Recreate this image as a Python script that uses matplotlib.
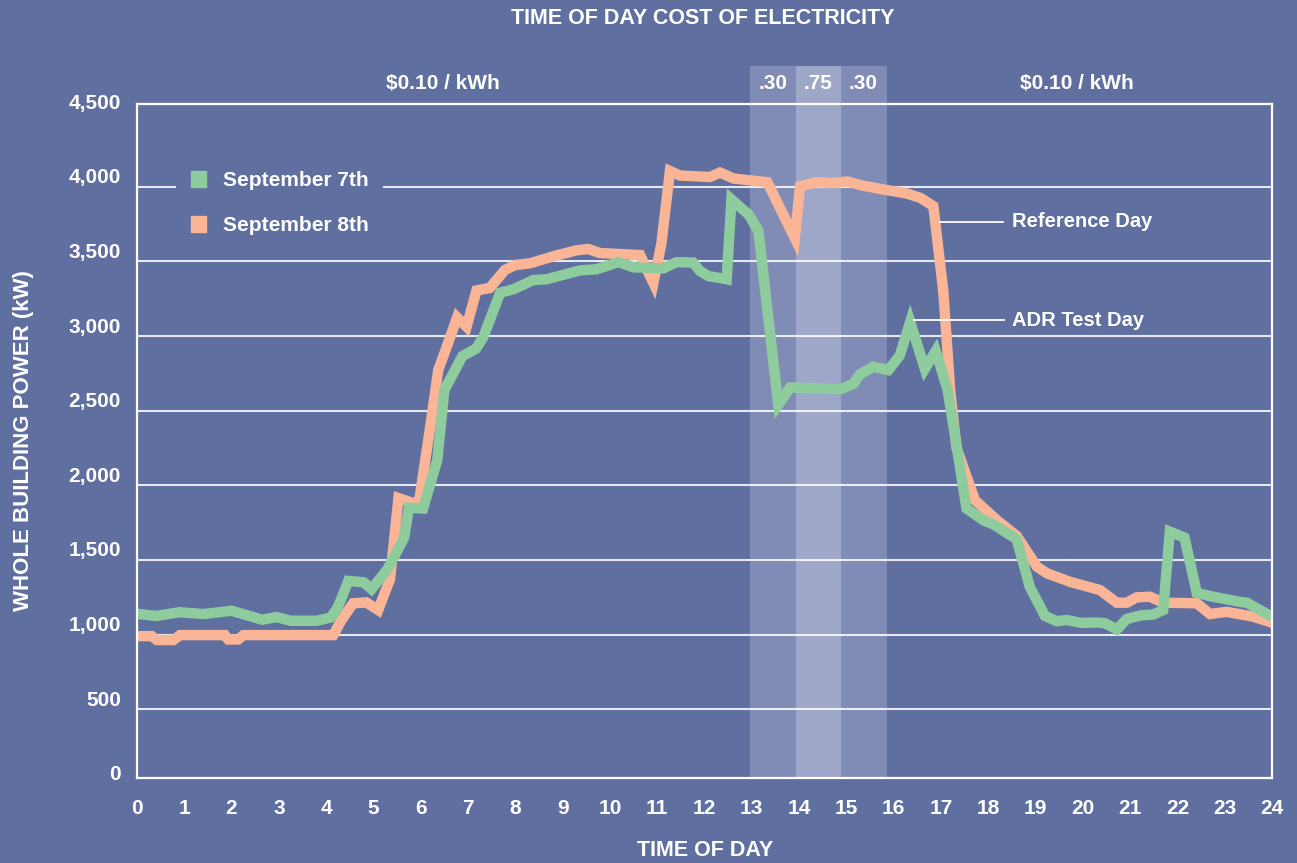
import matplotlib
matplotlib.use("Agg")
import matplotlib.pyplot as plt
from matplotlib.patches import Patch, Rectangle
from matplotlib.transforms import ScaledTranslation, blended_transform_factory

plt.rcParams["font.family"] = ["Liberation Sans", "DejaVu Sans"]

# ── data ──────────────────────────────────────────────────────────────────────
sep7_hours = [0.0, 0.4, 0.9, 1.4, 2.0, 2.65, 2.95, 3.25, 3.8, 4.1, 4.25, 4.47, 4.8,
              4.96, 5.3, 5.65, 5.75, 6.05, 6.35, 6.5, 6.88, 7.17, 7.32, 7.68, 7.96,
              8.38, 8.66, 9.37, 9.72, 10.18, 10.5, 11.13, 11.41, 11.76, 11.9, 12.08,
              12.47, 12.57, 12.93, 13.14, 13.56, 13.81, 14.37, 14.87, 15.15, 15.29,
              15.57, 15.89, 16.13, 16.35, 16.66, 16.89, 17.14, 17.3, 17.54, 17.9,
              18.1, 18.6, 18.88, 19.2, 19.45, 19.66, 19.98, 20.29, 20.47, 20.72,
              20.93, 21.21, 21.49, 21.7, 21.84, 22.15, 22.41, 22.69, 23.32, 23.47, 24.0]
sep7_kw = [1140, 1125, 1150, 1138, 1160, 1100, 1118, 1093, 1093, 1115, 1185, 1360, 1350,
           1305, 1440, 1650, 1850, 1845, 2170, 2638, 2865, 2915, 2990, 3290, 3313,
           3375, 3380, 3440, 3447, 3495, 3460, 3453, 3495, 3492, 3437, 3402,
           3380, 3915, 3815, 3705, 2540, 2655, 2650, 2643, 2680, 2745,
           2794, 2772, 2870, 3095, 2780, 2900, 2640, 2330, 1845, 1765,
           1740, 1640, 1320, 1125, 1090, 1098, 1078, 1082, 1076, 1035,
           1105, 1128, 1135, 1165, 1690, 1650, 1280, 1258, 1220, 1214, 1120]

sep8_hours = [0.0, 0.31, 0.42, 0.77, 0.91, 1.86, 1.93, 2.14, 2.25, 4.15, 4.33, 4.57,
              4.85, 5.1, 5.35, 5.53, 5.86, 5.97, 6.2, 6.37, 6.55, 6.77, 6.97, 7.18,
              7.46, 7.78, 7.99, 8.31, 8.87, 9.3, 9.54, 9.79, 10.64, 10.92, 11.09,
              11.27, 11.48, 12.12, 12.33, 12.61, 13.33, 13.91, 14.02, 14.37, 14.72,
              15.02, 15.33, 15.85, 16.27, 16.56, 16.84, 17.05, 17.2, 17.33, 17.72,
              18.18, 18.6, 19.03, 19.24, 19.73, 20.36, 20.72, 20.93, 21.14, 21.42,
              21.7, 22.41, 22.69, 23.04, 23.61, 24.0]
sep8_kw = [990, 990, 964, 964, 997, 997, 968, 968, 997, 997, 1100, 1210,
           1216, 1165, 1370, 1915, 1879, 1902, 2390, 2772, 2928, 3125, 3062, 3305,
           3322, 3442, 3475, 3487, 3540, 3574, 3583, 3556, 3542, 3355, 3620,
           4105, 4075, 4065, 4095, 4055, 4030, 3655, 4003, 4030, 4025,
           4035, 4008, 3978, 3955, 3926, 3870, 3300, 2620, 2250, 1900,
           1768, 1662, 1455, 1411, 1354, 1299, 1214, 1214, 1250, 1254,
           1214, 1210, 1138, 1153, 1120, 1080]

price_edges = [12.96, 13.93, 14.88, 15.85]
price_labels = [".30", ".75", ".30"]
y_ticks = [0, 500, 1000, 1500, 2000, 2500, 3000, 3500, 4000, 4500]
x_ticks = list(range(25))

BG = "#5F6FA0"
GREEN = "#8ECC9D"
ORANGE = "#F9B596"
BAND_COLORS = ["#808CB5", "#9EA7C7", "#808CB5"]

fig = plt.figure(figsize=(12.97, 8.63), dpi=100, facecolor=BG)
ax = fig.add_axes([0.1056, 0.0985, 0.8751, 0.781])
ax.set_facecolor(BG)

# price period bands, reaching above the frame for their labels
band_tr = blended_transform_factory(ax.transData, ax.transAxes)
for (x0, x1), c, lab in zip(zip(price_edges[:-1], price_edges[1:]), BAND_COLORS, price_labels):
    ax.add_patch(Rectangle((x0, 0), x1 - x0, 1.056, transform=band_tr, color=c,
                           lw=0, zorder=1, clip_on=False))
    ax.text((x0 + x1) / 2, 1.031, lab, transform=band_tr, ha="center", va="center",
            color="white", fontsize=15, fontweight="bold", zorder=5)

for xc in [6.47, 19.88]:
    ax.text(xc, 1.031, "$0.10 / kWh", transform=band_tr, ha="center", va="center",
            color="white", fontsize=15, fontweight="bold")

for v in y_ticks[1:-1]:
    ax.axhline(v, color="white", lw=1.5, alpha=0.85, zorder=2)

ax.plot(sep8_hours, sep8_kw, color=ORANGE, lw=7.5, solid_joinstyle="miter", zorder=3)
ax.plot(sep7_hours, sep7_kw, color=GREEN, lw=7.5, solid_joinstyle="miter", zorder=4)

# callouts
ax.plot([16.98, 18.31], [3764, 3764], color="white", lw=1.3, zorder=5)
ax.text(18.5, 3764, "Reference Day", color="white", fontsize=14.5, fontweight="bold",
        va="center", ha="left")
ax.plot([16.43, 18.33], [3107, 3107], color="white", lw=1.3, zorder=5)
ax.text(18.5, 3107, "ADR Test Day", color="white", fontsize=14.5, fontweight="bold",
        va="center", ha="left")

ax.set_xlim(0, 24)
ax.set_ylim(40, 4554)
ax.set_xticks(x_ticks)
ax.set_yticks([])
ax.tick_params(length=0, colors="white", labelsize=15)
ax.tick_params(axis="x", pad=15)
for lab in ax.get_xticklabels():
    lab.set_fontweight("bold")

# y labels sit a little above their gridlines, "0" sits below the frame's floor
ylab_tr = blended_transform_factory(ax.transAxes, ax.transData) + \
    ScaledTranslation(0, 9 / 100, fig.dpi_scale_trans)
for v in y_ticks:
    ax.text(-0.0141, v, f"{v:,}", transform=ylab_tr, ha="right", va="center",
            color="white", fontsize=15, fontweight="bold", clip_on=False)

for sp in ax.spines.values():
    sp.set_color("white")
    sp.set_linewidth(1.6)
    sp.set_zorder(6)

handles = [Patch(color=GREEN, label="September 7th"),
           Patch(color=ORANGE, label="September 8th")]
leg = ax.legend(handles=handles, loc="upper left", bbox_to_anchor=(0.0344, 0.922),
                frameon=True, facecolor=BG, edgecolor="none", framealpha=1,
                fancybox=False, handlelength=0.75, handleheight=0.75,
                handletextpad=0.8, labelspacing=1.25, borderpad=0.7,
                borderaxespad=0, prop={"size": 15, "weight": "bold"})
leg.set_zorder(7)
for t in leg.get_texts():
    t.set_color("white")

fig.text(0.542, 0.979, "TIME OF DAY COST OF ELECTRICITY", ha="center", va="center",
         color="white", fontsize=15.5, fontweight="bold")
fig.text(0.544, 0.015, "TIME OF DAY", ha="center", va="center",
         color="white", fontsize=15.5, fontweight="bold")
fig.text(0.018, 0.49, "WHOLE BUILDING POWER (kW)", ha="center", va="center",
         rotation=90, color="white", fontsize=16, fontweight="bold")

fig.savefig("out.png", dpi=100, facecolor=BG)
